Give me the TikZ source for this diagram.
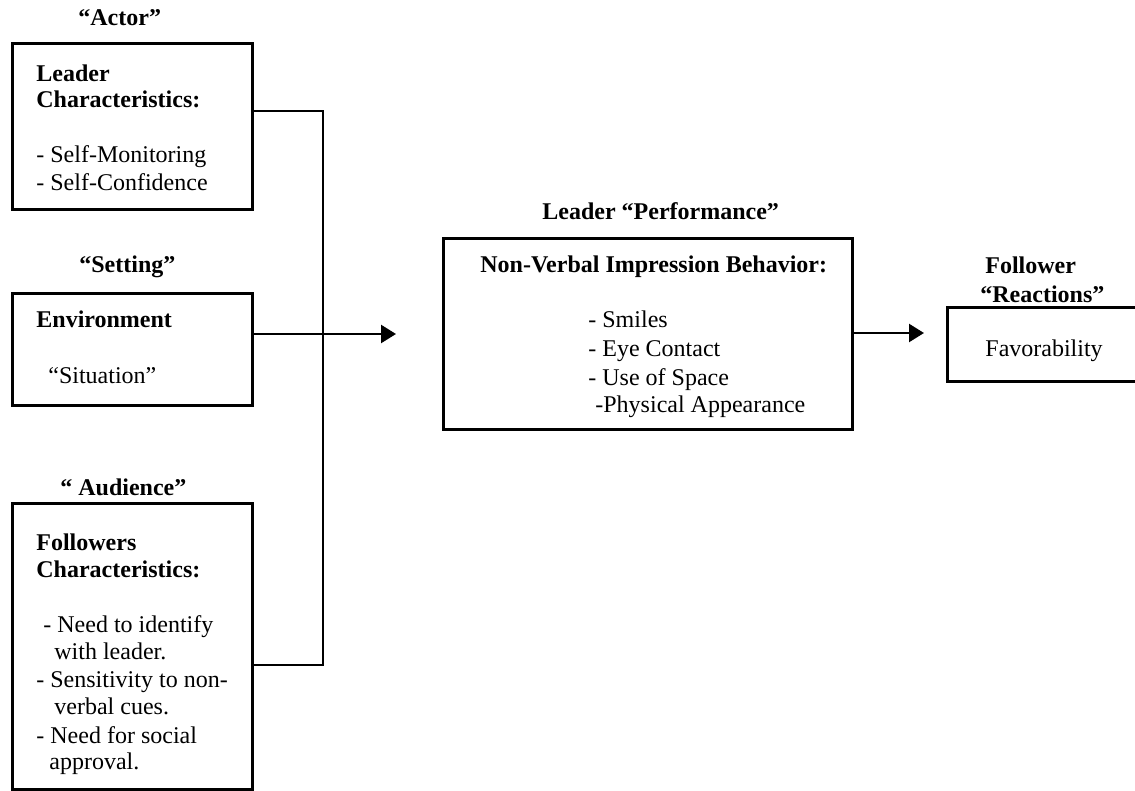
\documentclass[tikz,border=0pt]{standalone}
\usepackage{fontspec}
\setmainfont{Liberation Serif}
\usetikzlibrary{arrows.meta,fit}
\begin{document}
\begin{tikzpicture}[x=0.5pt,y=-0.5pt,
  every node/.style={font=\fontsize{12}{14}\selectfont, inner sep=0pt},
  box/.style={draw, line width=1.5pt, inner sep=0pt},
  txt/.style={anchor=base west},
  btxt/.style={anchor=base west, font=\fontsize{12}{14}\selectfont\bfseries},
  conn/.style={line width=1.2pt},
  arr/.style={line width=1.2pt, -{Triangle[length=7.5pt,width=9pt]}}]
\useasboundingbox (0,0) rectangle (1135,791);

% labels above boxes
\node[btxt] (lactor) at (78,26) {“Actor”};
\node[btxt] (lsetting) at (79,273) {“Setting”};
\node[btxt] (laudience) at (60,495) {“ Audience”};
\node[btxt] (lperf) at (542,220) {Leader “Performance”};
\node[btxt] (lfoll) at (985,274) {Follower};
\node[btxt] (lreact) at (980,302) {“Reactions”};

% boxes
\node[box, fit={(12,44) (252,210)}] (b1) {};
\node[box, fit={(12,294) (252,405)}] (b2) {};
\node[box, fit={(12,503) (252,789)}] (b3) {};
\node[box, fit={(443,239) (852,429)}] (b4) {};
\node[box, fit={(947,308) (1145,381)}] (b5) {};

% box 1 text
\node[btxt] (t1a) at (36,82) {Leader};
\node[btxt] (t1b) at (36,108) {Characteristics:};
\node[txt] (t1c) at (36,163) {- Self-Monitoring};
\node[txt] (t1d) at (36,191) {- Self-Confidence};

% box 2 text
\node[btxt] (t2a) at (36,328) {Environment};
\node[txt] (t2b) at (48,383) {“Situation”};

% box 3 text
\node[btxt] (t3a) at (36,550) {Followers};
\node[btxt] (t3b) at (36,577) {Characteristics:};
\node[txt] (t3c) at (43,632) {- Need to identify};
\node[txt] (t3d) at (54,659) {with leader.};
\node[txt] (t3e) at (36,687) {- Sensitivity to non-};
\node[txt] (t3f) at (54,714) {verbal cues.};
\node[txt] (t3g) at (36,743) {- Need for social};
\node[txt] (t3h) at (49,769) {approval.};

% box 4 text
\node[btxt] (t4a) at (480,273) {Non-Verbal Impression Behavior:};
\node[txt] (t4b) at (588,328) {- Smiles};
\node[txt] (t4c) at (588,357) {- Eye Contact};
\node[txt] (t4d) at (588,385) {- Use of Space};
\node[txt] (t4e) at (595,412) {-Physical Appearance};

% box 5 text
\node[txt] (t5a) at (985,357) {Favorability};

% connectors
\coordinate (jt) at (323,111);
\coordinate (jb) at (323,665);
\coordinate (tip1) at (396,334);
\coordinate (tip2) at (924,333);
\draw[conn] (b1.east |- jt) -- (jt) -- (jb) -- (b3.east |- jb);
\draw[arr] (b2.east |- tip1) -- (tip1);
\draw[arr] (b4.east |- tip2) -- (tip2);
\end{tikzpicture}
\end{document}
